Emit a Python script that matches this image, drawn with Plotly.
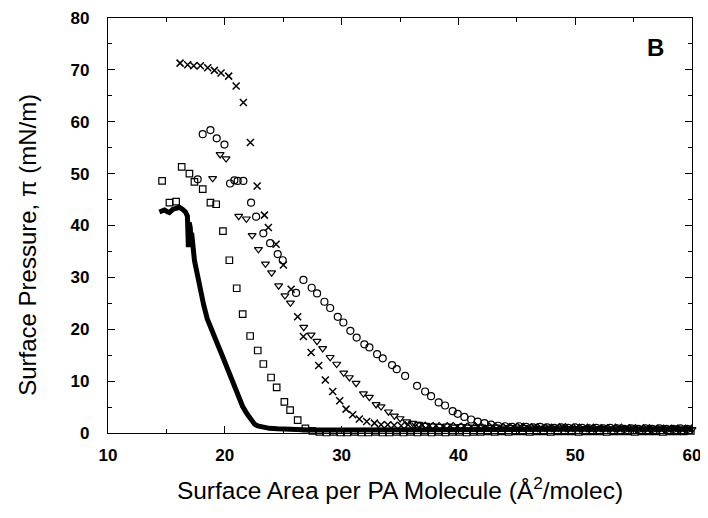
import plotly.graph_objects as go

# ---- data ----
cross_x = [16.17, 16.82, 17.34, 17.91, 18.54, 19.11, 19.68, 20.33, 20.97, 21.59, 22.19, 22.77,
           23.39, 23.73, 24.39, 25.02, 25.68, 26.24, 26.73, 27.39, 28.04, 28.61, 29.24, 29.84,
           30.38, 30.95, 31.52, 32.15, 32.81, 33.38, 33.95,
           34.5, 35.1, 35.7, 36.3, 36.9, 37.5, 38.1, 38.7, 39.3, 39.9, 40.5, 41.1, 41.7, 42.3,
           42.9, 43.5, 44.1, 44.7, 45.3, 45.9, 46.5, 47.1, 47.7, 48.3, 48.9, 49.5, 50.1, 50.7,
           51.3, 51.9, 52.5, 53.1, 53.7, 54.3, 54.9, 55.5, 56.1, 56.7, 57.3, 57.9, 58.5, 59.1, 59.7]
cross_y = [71.3, 71.0, 70.8, 70.8, 70.4, 69.9, 69.4, 68.8, 66.9, 63.7, 56.0, 47.6,
           42.0, 39.6, 36.4, 32.4, 27.7, 22.4, 18.6, 15.5, 13.0, 10.2, 8.0, 6.2,
           4.6, 3.5, 2.7, 2.2, 1.9, 1.6, 1.6,
           1.5, 1.4, 1.6, 1.3, 1.5, 1.3, 1.4, 1.2, 1.4, 1.2, 1.3, 1.2, 1.4, 1.1,
           1.3, 1.1, 1.2, 1.1, 1.3, 1.0, 1.2, 1.0, 1.1, 1.0, 1.2, 1.0, 1.1, 0.9,
           1.1, 0.9, 1.0, 0.9, 1.1, 0.9, 1.0, 0.8, 1.0, 0.8, 0.9, 0.8, 0.9, 0.8, 0.9]

circle_x = [17.68, 18.11, 18.77, 19.31, 19.97, 20.45, 20.82, 21.10, 21.59, 22.25, 22.68, 23.30,
            23.88, 24.53, 24.96, 26.10, 26.73, 27.44, 27.90, 28.53, 29.02, 29.67, 30.15, 30.75,
            31.29, 31.95, 32.38, 33.04, 33.52, 34.32, 34.72, 35.44, 36.46, 37.15, 37.66, 38.31,
            38.86, 39.51, 39.94, 40.51, 41.09, 41.65, 42.23,
            42.8, 43.4, 44.0, 44.6, 45.2, 45.8, 46.4, 47.0, 47.6, 48.2, 48.8, 49.4, 50.0, 50.6,
            51.2, 51.8, 52.4, 53.0, 53.6, 54.2, 54.8, 55.4, 56.0, 56.6, 57.2, 57.8, 58.4, 59.0, 59.6]
circle_y = [48.9, 57.6, 58.4, 56.8, 55.6, 48.1, 48.7, 48.6, 48.6, 44.4, 41.7, 38.5,
            36.6, 34.5, 33.3, 27.0, 29.5, 28.0, 26.9, 25.3, 24.1, 22.4, 21.3, 19.7,
            18.4, 17.1, 16.5, 15.2, 14.4, 13.1, 12.3, 11.0, 9.1, 8.0, 7.1, 5.9,
            5.3, 4.2, 3.7, 3.1, 2.6, 2.2, 1.9,
            1.6, 1.4, 1.3, 1.2, 1.3, 1.2, 1.1, 1.2, 1.1, 1.0, 1.1, 1.0, 1.1, 1.0,
            0.9, 1.0, 0.9, 1.0, 0.9, 0.8, 0.9, 0.8, 0.9, 0.8, 0.9, 0.8, 0.8, 0.9, 0.8]

tri_x = [18.96, 19.60, 20.11, 21.19, 21.85, 22.34, 22.88, 23.48, 24.01, 24.61, 25.15, 25.62,
         26.76, 27.39, 27.89, 28.38, 29.02, 29.58, 30.18, 30.67, 31.24, 31.87, 32.38, 32.95,
         33.38, 34.01, 34.52, 35.01, 35.57, 36.09,
         36.6, 37.2, 37.8, 38.4, 39.0, 39.6, 40.2, 40.8, 41.4, 42.0, 42.6, 43.2, 43.8, 44.4,
         45.0, 45.6, 46.2, 46.8, 47.4, 48.0, 48.6, 49.2, 49.8, 50.4, 51.0, 51.6, 52.2, 52.8,
         53.4, 54.0, 54.6, 55.2, 55.8, 56.4, 57.0, 57.6, 58.2, 58.8, 59.4, 60.0]
tri_y = [49.1, 53.7, 52.9, 41.8, 41.3, 38.1, 35.4, 32.6, 30.9, 28.4, 26.5, 25.1,
         20.4, 18.9, 17.7, 16.3, 14.6, 13.3, 11.6, 10.7, 9.6, 7.6, 6.9, 5.5,
         5.1, 4.1, 3.3, 2.8, 2.2, 1.9,
         1.7, 1.5, 1.4, 1.3, 1.4, 1.2, 1.3, 1.2, 1.1, 1.2, 1.1, 1.2, 1.0, 1.1,
         1.0, 1.1, 1.0, 0.9, 1.0, 0.9, 1.0, 0.9, 0.9, 0.8, 0.9, 0.8, 0.9, 0.8,
         0.8, 0.9, 0.8, 0.7, 0.8, 0.7, 0.8, 0.7, 0.8, 0.7, 0.7, 0.7]

square_x = [14.63, 15.26, 15.83, 16.31, 16.97, 17.40, 18.11, 18.77, 19.26, 19.84, 20.39, 21.02,
            21.53, 22.17, 22.82, 23.30, 23.96, 24.44, 25.10, 25.59, 26.24, 26.90,
            27.5, 28.1, 28.7, 29.3, 29.9, 30.5, 31.1, 31.7, 32.3, 32.9, 33.5, 34.1, 34.7, 35.3,
            35.9, 36.5, 37.1, 37.7, 38.3, 38.9, 39.5, 40.1, 40.7, 41.3, 41.9, 42.5, 43.1, 43.7,
            44.3, 44.9, 45.5, 46.1, 46.7, 47.3, 47.9, 48.5, 49.1, 49.7, 50.3, 50.9, 51.5, 52.1,
            52.7, 53.3, 53.9, 54.5, 55.1, 55.7, 56.3, 56.9, 57.5, 58.1, 58.7, 59.3, 59.9]
square_y = [48.6, 44.4, 44.6, 51.3, 50.0, 48.4, 47.0, 44.4, 44.1, 38.9, 33.3, 27.9,
            22.9, 18.7, 15.9, 13.3, 10.7, 8.8, 6.0, 4.4, 2.5, 0.9,
            0.4, 0.2, 0.1, 0.2, 0.1, 0.1, 0.2, 0.1, 0.1, 0.2, 0.1, 0.1, 0.2, 0.1,
            0.2, 0.1, 0.2, 0.1, 0.2, 0.1, 0.2, 0.2, 0.1, 0.2, 0.2, 0.3, 0.2, 0.3,
            0.2, 0.3, 0.3, 0.2, 0.3, 0.3, 0.2, 0.3, 0.3, 0.3, 0.2, 0.3, 0.3, 0.3,
            0.2, 0.3, 0.3, 0.3, 0.2, 0.3, 0.3, 0.3, 0.2, 0.3, 0.3, 0.3, 0.4]

line_x = [14.40, 14.60, 14.83, 15.05, 15.26, 15.54, 15.80, 16.11, 16.40, 16.63, 16.80, 16.88,
          16.95, 17.05, 17.10, 17.16, 17.40, 17.68, 17.90, 18.20, 18.50, 18.96, 19.40, 19.82,
          20.25, 20.68, 21.10, 21.53, 21.90, 22.25, 22.55, 22.82, 23.30, 23.82, 24.50, 25.25,
          26.50, 27.24, 30.0, 33.0, 36.0, 40.0, 45.0, 50.0, 55.0, 60.0]
line_y = [42.6, 42.9, 43.0, 42.7, 42.5, 43.1, 43.3, 43.5, 43.1, 42.6, 41.8, 35.8,
          40.6, 39.5, 36.0, 38.6, 33.3, 30.1, 27.6, 24.6, 22.0, 19.2, 17.0, 14.7,
          12.2, 9.6, 7.3, 5.1, 3.7, 2.5, 1.7, 1.35, 1.05, 0.9, 0.8, 0.7,
          0.65, 0.6, 0.6, 0.6, 0.7, 0.7, 0.8, 0.8, 0.8, 0.8]

x_ticks = [10, 20, 30, 40, 50, 60]
y_ticks = [0, 10, 20, 30, 40, 50, 60, 70, 80]

fig = go.Figure()
mk = dict(color="black", width=1.2)
fig.add_trace(go.Scatter(x=square_x, y=square_y, mode="markers", cliponaxis=False,
                         marker=dict(symbol="square-open", size=6.5, color="black", line=mk)))
fig.add_trace(go.Scatter(x=tri_x, y=tri_y, mode="markers", cliponaxis=False,
                         marker=dict(symbol="triangle-down-open", size=7, color="black", line=mk)))
fig.add_trace(go.Scatter(x=circle_x, y=circle_y, mode="markers", cliponaxis=False,
                         marker=dict(symbol="circle-open", size=7, color="black", line=mk)))
fig.add_trace(go.Scatter(x=cross_x, y=cross_y, mode="markers", cliponaxis=False,
                         marker=dict(symbol="x-thin", size=7, color="black",
                                     line=dict(color="black", width=1.5))))
fig.add_trace(go.Scatter(x=line_x, y=line_y, mode="lines", cliponaxis=False,
                         line=dict(color="black", width=5)))

FONT = "Liberation Sans, Arial, sans-serif"
tickfont = dict(family=FONT, size=17, color="black", weight="bold")

fig.update_layout(
    width=708, height=518,
    margin=dict(l=100, r=24, t=10, b=93),
    paper_bgcolor="white", plot_bgcolor="white",
    showlegend=False,
    xaxis=dict(range=[10, 60], tickvals=x_ticks, ticks="inside", ticklen=7, tickwidth=1,
               tickcolor="black", showline=True, linecolor="black", linewidth=1.2,
               mirror="allticks", showgrid=False, zeroline=False, tickfont=tickfont,
               ticklabelstandoff=6,
               minor=dict(dtick=5, ticks="inside", ticklen=4, tickcolor="black", showgrid=False),
               title=dict(text="Surface Area per PA Molecule (Å<sup>2</sup>/molec)",
                          font=dict(family=FONT, size=24.5, color="black"), standoff=18),
               automargin=False),
    yaxis=dict(range=[0, 80], tickvals=y_ticks, ticks="inside", ticklen=7, tickwidth=1,
               tickcolor="black", showline=True, linecolor="black", linewidth=1.2,
               mirror="allticks", showgrid=False, zeroline=False, tickfont=tickfont,
               ticklabelstandoff=14,
               minor=dict(dtick=5, ticks="inside", ticklen=4, tickcolor="black", showgrid=False),
               automargin=False),
    annotations=[
        dict(text="<b>B</b>", x=0.937, y=0.928, xref="paper", yref="paper",
             xanchor="center", yanchor="middle", showarrow=False,
             font=dict(family=FONT, size=24, color="black")),
        dict(text="Surface Pressure, π (mN/m)", textangle=-90,
             x=-0.139, y=0.453, xref="paper", yref="paper",
             xanchor="center", yanchor="middle", showarrow=False,
             font=dict(family=FONT, size=24, color="black")),
    ],
)

fig.write_html("out.html")
